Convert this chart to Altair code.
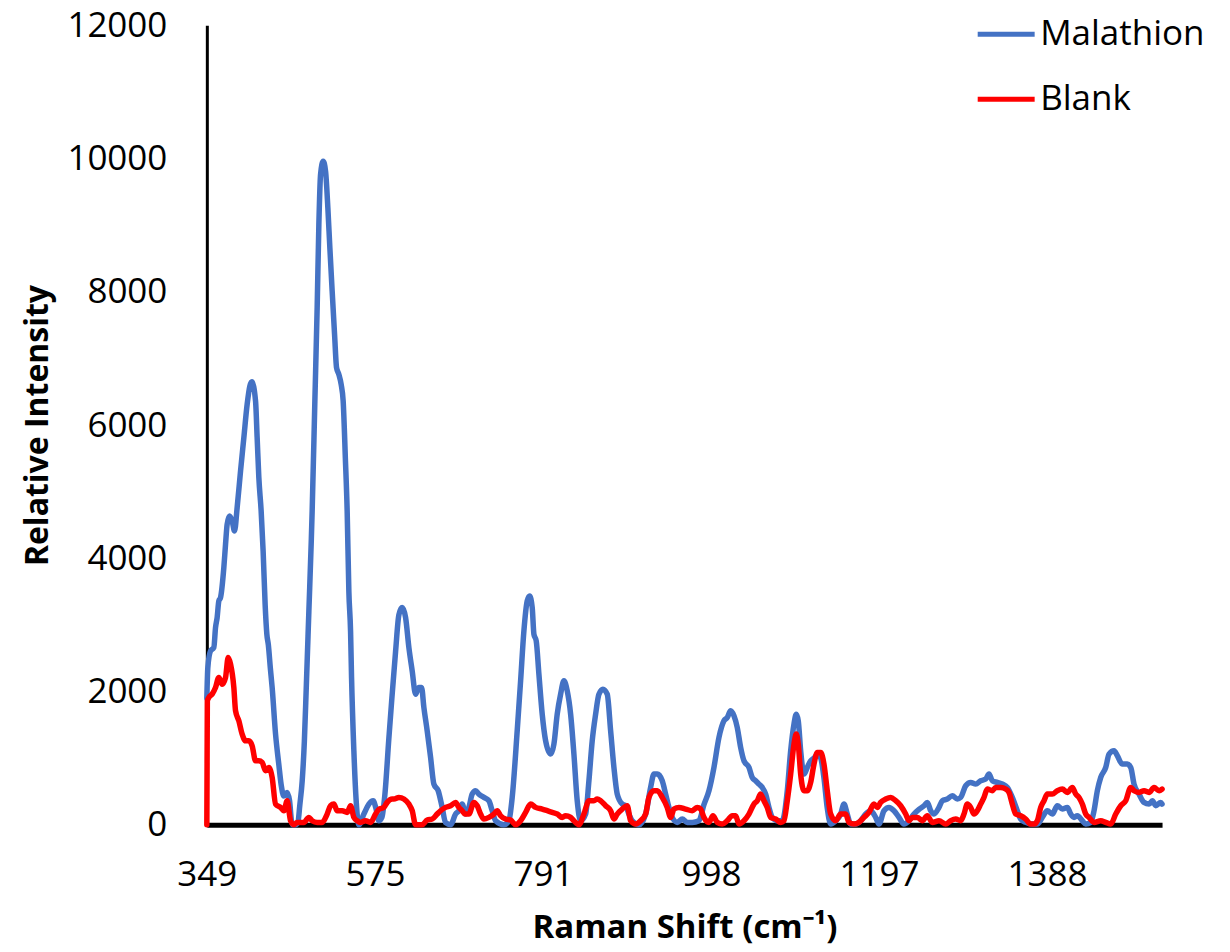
import altair as alt
import pandas as pd

# ---- data (category index along the spectrum, relative intensity) ----
malathion_idx = [0, 1, 3.7, 7, 8.7, 10.3, 12, 13.7, 17, 18.7, 20.3, 22.7, 25.3, 27.7, 30.3, 33.7, 37, 40.3, 43, 45,
                 48.7, 50.3, 52, 54.3, 56.3, 58.3, 60, 61.5, 63.5, 65.3, 68.7, 72, 74.3, 77, 80.3, 82.7, 84.7, 86, 88.7, 91,
                 93, 95.3, 97.5, 99.5, 102, 104.5, 105.3, 108, 110.3, 112, 113.7, 116.3, 118.7, 121, 123, 125.3, 127.7, 129.7, 132, 134.3,
                 136.3, 138.5, 140.3, 142, 143.7, 144.7, 147, 149.3, 152, 157, 162, 166.3, 169, 172, 175, 178, 182, 185, 188.7, 192,
                 195.3, 198.7, 202, 205.3, 208.7, 212, 214.7, 217, 220.3, 223.7, 227, 231.3, 235.3, 238.7, 243.7, 248.7, 252, 255.3, 258.7, 262,
                 265.3, 268.7, 272, 277, 282, 285.3, 288.7, 297, 302, 305.3, 310.3, 313.7, 317, 320.3, 322.7, 325.3, 327, 329.3, 332, 335.3,
                 338.7, 343.7, 347, 350.3, 353.7, 357, 360.3, 363.7, 367, 370.3, 373.7, 378.7, 382, 385.3, 388.7, 392, 396, 400.3, 403.7, 407,
                 410.3, 415.3, 418.7, 422, 425.3, 432, 438.7, 443.7, 447, 450.3, 455.3, 458.7, 462, 465.3, 470.3, 475.3, 480.3, 485.3, 492, 497,
                 502, 507, 512, 517, 520.3, 523.7, 527, 530.3, 533.7, 537, 542, 545.3, 548.7, 552, 555.3, 558.7, 562, 565.3, 570.3, 575.3,
                 580.3, 583.7, 587, 589.3, 591.3, 593.7, 597, 600.3, 603.7, 607, 610.3, 613.7, 617, 620.3, 623.7, 628.7, 633.7, 637, 640.3, 643.7,
                 648.7, 653.7, 658.7, 663.7, 668.7, 672, 677, 682, 687, 692, 697, 702, 707, 712, 717, 720.3, 723.7, 727, 732, 735.3,
                 740.3, 745.3, 750.3, 753.7, 758.7, 763.7, 768.7, 773.7, 778.7, 782, 785.3, 790.3, 795.3, 800.3, 805.3, 810.3, 813.7, 818.7, 825.3, 830.3,
                 835.3, 840.3, 845.3, 850.3, 855.3, 860.3, 863.7, 867, 870.3, 875.3, 878.7, 883.7, 887, 890.3, 893.7, 898.7, 902, 907, 910.3, 915.3,
                 920.3, 923.7, 927, 932, 937, 942, 945.3, 948.7, 953.7, 955]
malathion_val = [1900, 2360, 2610, 2660, 2960, 3110, 3360, 3410, 3860, 4210, 4510, 4635, 4560, 4410, 4760, 5310, 5810, 6310, 6585, 6650,
                 6360, 5810, 5210, 4710, 4100, 3300, 2860, 2700, 2350, 2060, 1360, 900, 600, 430, 485, 360, 50, 0, 0, 30,
                 300, 650, 1250, 2100, 3200, 4300, 4710, 6360, 7760, 9010, 9760, 9960, 9810, 9260, 8660, 8010, 7360, 6860, 6760, 6610,
                 6360, 5500, 4710, 3500, 2900, 2200, 1110, 360, 0, 160, 310, 360, 250, 60, 110, 450, 1300, 1900, 2600, 3150,
                 3260, 3110, 2660, 2310, 1960, 2060, 2060, 1760, 1410, 1010, 610, 510, 260, 30, 0, 160, 210, 310, 160, 260,
                 460, 510, 460, 410, 360, 210, 60, 0, 60, 410, 1410, 2160, 2910, 3360, 3435, 3260, 2860, 2760, 2260, 1660,
                 1260, 1060, 1210, 1660, 1960, 2160, 2010, 1660, 1060, 360, 60, 160, 660, 1260, 1660, 1960, 2035, 1960, 1410, 860,
                 460, 310, 285, 160, 60, 0, 160, 560, 760, 760, 660, 460, 260, 110, 35, 85, 35, 35, 60, 300,
                 510, 860, 1310, 1560, 1610, 1710, 1635, 1460, 1160, 960, 860, 710, 660, 610, 560, 460, 260, 110, 60, 60,
                 510, 1110, 1510, 1660, 1560, 1110, 760, 860, 960, 1000, 1050, 1000, 700, 250, 10, 60, 160, 310, 160, 10,
                 10, 60, 160, 210, 110, 10, 210, 260, 210, 110, 10, 60, 160, 230, 285, 335, 210, 160, 260, 360,
                 385, 435, 385, 410, 585, 635, 610, 660, 685, 760, 660, 635, 610, 560, 410, 210, 85, 35, 10, 10,
                 110, 210, 160, 285, 235, 260, 160, 110, 135, 60, 10, 35, 210, 510, 710, 860, 1060, 1110, 1035, 910,
                 910, 860, 610, 460, 335, 310, 360, 285, 335, 310]

blank_idx = [0, 0.5, 2, 5.3, 8.7, 12, 15.3, 18.7, 21.3, 23.7, 27, 28.7, 32, 35.3, 38.7, 42, 45.3, 48.7, 52, 55.3,
             58.7, 62, 65.3, 68.7, 73.7, 77, 80.3, 83.7, 87, 90.3, 97, 102, 105.3, 110.3, 115.3, 120.3, 123.7, 127, 130.3, 135.3,
             140.3, 143.7, 147, 150.3, 153.7, 158.7, 163.7, 168.7, 172, 177, 180.3, 185.3, 187, 192, 197, 202, 205.3, 208.7, 215.3, 220.3,
             225.3, 230.3, 233.7, 238.7, 243.7, 248.7, 252, 255.3, 258, 262, 267, 270.3, 273.7, 277, 282, 287, 290.3, 293.7, 298.7, 303.7,
             308.7, 313.7, 318.7, 323.7, 328.7, 335.3, 340.3, 345.3, 350.3, 355.3, 358.7, 363.7, 367, 372, 377, 382, 387, 390.3, 393.7, 398.7,
             403.7, 407, 410.3, 415.3, 420.3, 423.7, 428.7, 433.7, 438.7, 442, 447, 450.3, 455.3, 460.3, 463.7, 467, 472, 478.7, 485.3, 490.3,
             493.7, 497, 502, 506, 510.3, 515.3, 520.3, 525.3, 528.7, 532, 537, 542, 547, 550.3, 553.7, 557, 560.3, 563.7, 568.7, 573.7,
             577, 580.3, 583.7, 587, 589.3, 591.3, 593.7, 597, 600.3, 603.7, 607, 610.3, 613.7, 617, 620.3, 623.7, 628.7, 633.7, 638.7, 642,
             647, 652, 657, 662, 667, 670.3, 673.7, 678.7, 683.7, 688.7, 693.7, 698.7, 702, 705.3, 710.3, 715.3, 720.3, 725.3, 732, 738.7,
             743.7, 748.7, 753.7, 757, 760.3, 763.7, 767, 770.3, 773.7, 777, 780.3, 785.3, 788.7, 793.7, 798.7, 802, 805.3, 808.7, 813.7, 818.7,
             823.7, 827, 830.3, 833.7, 837, 840.3, 845.3, 850.3, 855.3, 860.3, 865.3, 868.7, 872, 875.3, 878.7, 882, 887, 893.7, 898.7, 903.7,
             908.7, 913.7, 918.7, 923.7, 927, 932, 937, 942, 947, 952, 955]
blank_val = [0, 1860, 1910, 1960, 2060, 2210, 2110, 2210, 2510, 2410, 2060, 1710, 1560, 1360, 1260, 1260, 1185, 960, 960, 935,
             810, 860, 710, 310, 260, 210, 360, 60, 0, 35, 35, 110, 60, 35, 35, 160, 285, 310, 210, 210,
             185, 285, 110, 60, 35, 60, 35, 160, 230, 260, 335, 385, 385, 410, 385, 310, 210, 0, 0, 70,
             85, 160, 210, 260, 285, 335, 260, 210, 160, 160, 335, 285, 160, 85, 110, 160, 210, 135, 85, 70,
             0, 60, 185, 310, 260, 235, 210, 185, 160, 110, 135, 110, 60, 0, 160, 360, 360, 385, 360, 285,
             210, 85, 160, 235, 285, 60, 10, 60, 160, 410, 510, 510, 410, 260, 110, 235, 260, 235, 210, 260,
             235, 110, 35, 135, 35, 10, 60, 135, 135, 10, 60, 160, 310, 360, 460, 360, 260, 110, 85, 35,
             60, 360, 760, 1210, 1360, 1210, 760, 510, 510, 635, 910, 1085, 1085, 910, 510, 160, 60, 160, 160, 35,
             10, 35, 110, 185, 310, 260, 335, 385, 410, 360, 285, 160, 60, 110, 110, 60, 135, 35, 60, 10,
             60, 85, 60, 160, 310, 260, 160, 210, 310, 410, 535, 510, 560, 560, 535, 485, 310, 160, 135, 85,
             10, 10, 60, 260, 360, 460, 460, 510, 535, 485, 560, 460, 410, 310, 160, 110, 35, 60, 35, 10,
             160, 285, 360, 560, 510, 485, 510, 485, 560, 510, 535]

tick_pos = [0, 168, 336, 504, 672, 840]
tick_labels = ["349", "575", "791", "998", "1197", "1388"]
y_ticks = [0, 2000, 4000, 6000, 8000, 10000, 12000]
series_names = ["Malathion", "Blank"]
series_colors = ["#4472C4", "#FF0000"]

FONT = "Open Sans"

df_m = pd.DataFrame({"idx": malathion_idx, "val": malathion_val, "series": series_names[0]})
df_b = pd.DataFrame({"idx": blank_idx, "val": blank_val, "series": series_names[1]})

label_expr = " : ".join(f"datum.value == {p} ? '{l}'" for p, l in zip(tick_pos, tick_labels)) + " : ''"

x_enc = alt.X(
    "idx:Q",
    scale=alt.Scale(domain=[0, 955], nice=False, zero=False),
    axis=alt.Axis(
        values=tick_pos, labelExpr=label_expr, ticks=False, grid=False,
        domainColor="black", domainWidth=5, labelFont=FONT, labelFontSize=35,
        labelColor="black", labelPadding=33, labelFlush=False, labelOverlap=False,
        title="Raman Shift (cm\u207b\u00b9)", titleFont=FONT, titleFontSize=33,
        titleFontWeight="bold", titleColor="black", titlePadding=19,
    ),
)
y_enc = alt.Y(
    "val:Q",
    scale=alt.Scale(domain=[0, 12000], nice=False),
    axis=alt.Axis(
        values=y_ticks, format="d", ticks=False, grid=False, domainColor="black", domainWidth=3,
        labelFont=FONT, labelFontSize=35, labelColor="black", labelPadding=40,
        title="Relative Intensity", titleFont=FONT, titleFontSize=32,
        titleFontWeight="bold", titleColor="black", titlePadding=12,
    ),
)
color_enc = alt.Color(
    "series:N",
    scale=alt.Scale(domain=series_names, range=series_colors),
    legend=alt.Legend(
        title=None, orient="none", legendX=769, legendY=-22, padding=0,
        symbolType="stroke", symbolSize=3249, symbolStrokeWidth=5,
        labelFont=FONT, labelFontSize=35, labelColor="black", labelOffset=3,
        rowPadding=16, labelLimit=400,
    ),
)

line_kw = dict(strokeWidth=5.5, interpolate="monotone", strokeJoin="round", strokeCap="round")

blue = alt.Chart(df_m).mark_line(**line_kw).encode(x=x_enc, y=y_enc, color=color_enc)
red = alt.Chart(df_b).mark_line(**line_kw).encode(x=x_enc, y=y_enc, color=color_enc)

chart = alt.layer(blue, red).properties(
    width=956, height=800,
    padding={"left": 199, "top": 17, "right": 60, "bottom": 124},
    autosize=alt.AutoSizeParams(type="none"),
    background="white",
).configure_view(stroke=None)

chart.save("out.html", embed_options={"renderer": "svg", "actions": False})
